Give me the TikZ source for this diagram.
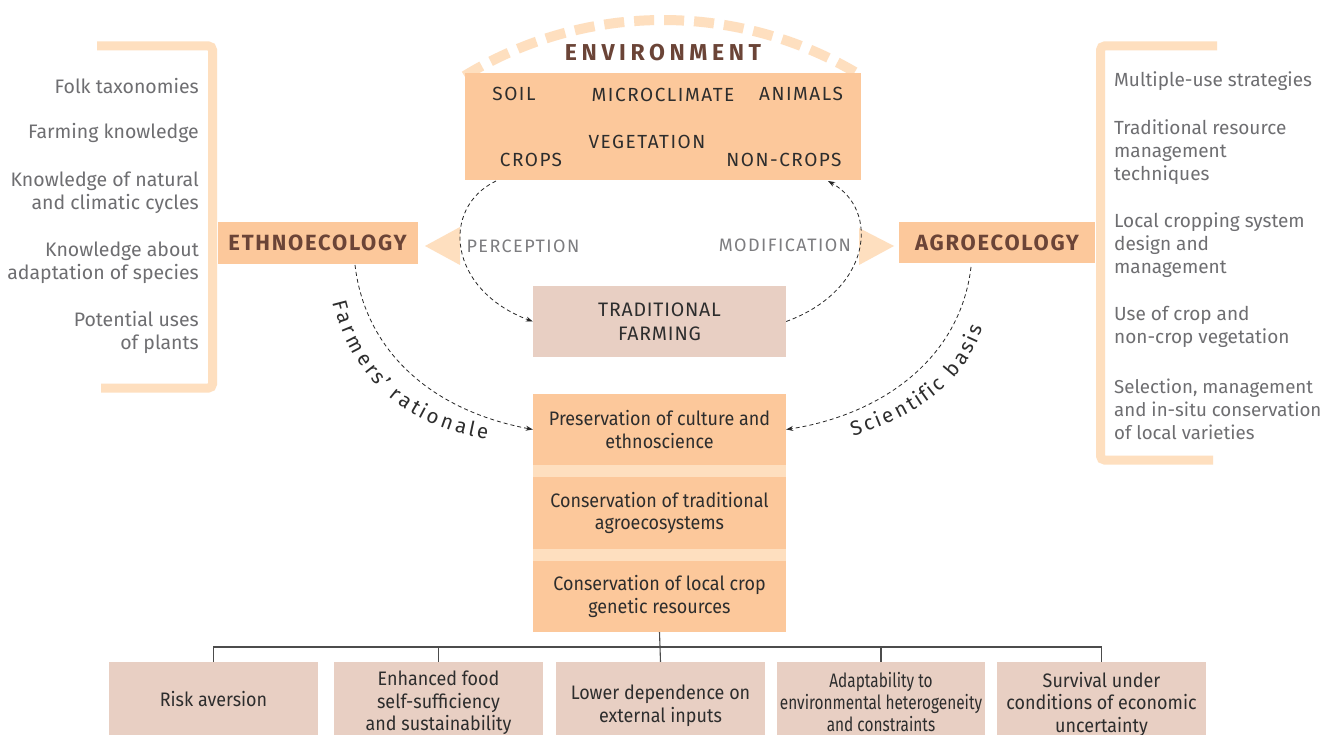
\documentclass[tikz,border=0pt]{standalone}
\usepackage{fontspec}
\setmainfont{Fira Sans}
\newfontfamily\condf{Fira Sans}[FakeStretch=0.92]
\newfontfamily\vcondf{Fira Sans}[FakeStretch=0.79]
\newfontfamily\spacedf{Fira Sans}[LetterSpace=8]
\newfontfamily\tfspacedf{Fira Sans}[LetterSpace=4]
\newfontfamily\widef{Fira Sans}[LetterSpace=20]
\newfontfamily\sidef{Fira Sans}[LetterSpace=8]
\usetikzlibrary{arrows.meta,decorations.text}
\definecolor{peach}{RGB}{252,200,155}
\definecolor{lpeach}{RGB}{254,223,191}
\definecolor{pinkb}{RGB}{232,207,195}
\definecolor{brownt}{RGB}{107,68,55}
\definecolor{grayt}{RGB}{110,110,113}
\definecolor{labelt}{RGB}{125,125,128}
\definecolor{darkt}{RGB}{45,45,45}
\tikzset{
  peachbox/.style={fill=peach, inner sep=0pt, text=darkt, align=center},
  pinkbox/.style={fill=pinkb, inner sep=0pt, text=darkt, align=center},
  boxtext/.style={inner sep=0pt, text=darkt, align=center, font=\condf\fontsize{19.5}{22.5}\selectfont},
  envtext/.style={inner sep=0pt, text=darkt, font=\spacedf\fontsize{19}{22}\selectfont},
  titletext/.style={inner sep=0pt, text=brownt, font=\widef\bfseries\fontsize{23}{26}\selectfont},
  sidetext/.style={text=brownt, font=\sidef\bfseries\fontsize{22}{26}\selectfont},
  listl/.style={inner sep=0pt, text=grayt, anchor=east, align=right, font=\fontsize{19.5}{23.3}\selectfont},
  listr/.style={inner sep=0pt, text=grayt, anchor=west, align=left, font=\fontsize{19}{23.3}\selectfont},
  flowlabel/.style={inner sep=0pt, text=labelt, font=\spacedf\fontsize{18}{20}\selectfont},
  bracket/.style={draw=lpeach, line width=9pt, rounded corners=4pt},
  conn/.style={draw=black!85, line width=0.8pt, dash pattern=on 4pt off 3pt, -{Stealth[length=7pt,width=5pt]}},
  tree/.style={draw=black!70, line width=1.1pt},
  curvelabel/.style={decorate, decoration={text effects along path, text={#1}, text effects/.cd, text along path, fit text to path, characters={text=darkt, font=\fontsize{20.5}{20.5}\selectfont}}},
}
\begin{document}
\begin{tikzpicture}[x=1pt,y=1pt]
\useasboundingbox (0,0) rectangle (1323,-735);
\fill[white] (0,0) rectangle (1323,-735);

% dashed arc over environment
\draw[lpeach, line width=10pt, dash pattern=on 20pt off 10pt] (663,-400) ++(121.5:380) arc[start angle=121.5, end angle=58.5, radius=380];

% environment box
\node[peachbox, minimum width=396pt, minimum height=107pt] (env) at (663,-126.5) {};
\node[titletext] (envtitle) at (663,-53) {ENVIRONMENT};
\node[envtext] (soil) at (514,-94) {SOIL};
\node[envtext] (micro) at (663,-95) {MICROCLIMATE};
\node[envtext] (animals) at (801,-94) {ANIMALS};
\node[envtext] (veg) at (647,-142) {VEGETATION};
\node[envtext] (crops) at (531,-160) {CROPS};
\node[envtext] (noncrops) at (784,-160) {NON-CROPS};

% brackets
\draw[bracket] (97,-46) -- (212.5,-46) -- (212.5,-388) -- (101,-388);
\draw[bracket] (1217,-46) -- (1100.5,-46) -- (1100.5,-460) -- (1213,-460);

% side boxes
\node[peachbox, minimum width=200pt, minimum height=42pt, sidetext] (eth) at (317.5,-243) {ETHNOECOLOGY};
\node[peachbox, minimum width=196pt, minimum height=41pt, sidetext] (agro) at (997,-242.5) {AGROECOLOGY};

% triangles
\fill[lpeach] (425,-246) -- (460,-227) -- (460,-265) -- cycle;
\fill[lpeach] (894,-246) -- (859,-228) -- (859,-265) -- cycle;

\node[flowlabel] (perc) at (523,-246) {PERCEPTION};
\node[flowlabel] (modif) at (785,-245) {MODIFICATION};

% traditional farming
\node[pinkbox, minimum width=253pt, minimum height=71pt, font=\tfspacedf\fontsize{19.5}{24}\selectfont] (tf) at (659.5,-321.5) {TRADITIONAL\\FARMING};

% stack
\fill[lpeach] (533,-394) rectangle (786,-632);
\node[peachbox, minimum width=253pt, minimum height=71pt, font=\condf\fontsize{19.5}{22.5}\selectfont] (pres) at (659.5,-429.5) {Preservation of culture and\\ethnoscience};
\node[peachbox, minimum width=253pt, minimum height=72pt, font=\condf\fontsize{19.5}{22.5}\selectfont] (consa) at (659.5,-513) {Conservation of traditional\\agroecosystems};
\node[peachbox, minimum width=253pt, minimum height=71pt, font=\condf\fontsize{19.5}{22.5}\selectfont] (consc) at (659.5,-596.5) {Conservation of local crop\\genetic resources};

% bottom boxes
\node[pinkbox, minimum width=209pt, minimum height=73pt] (risk) at (213.5,-698.5) {};
\node[pinkbox, minimum width=209pt, minimum height=73pt] (food) at (438.5,-698.5) {};
\node[pinkbox, minimum width=209pt, minimum height=73pt] (lower) at (660.5,-698.5) {};
\node[pinkbox, minimum width=208pt, minimum height=73pt] (adapt) at (881,-698.5) {};
\node[pinkbox, minimum width=209pt, minimum height=73pt] (surv) at (1101.5,-698.5) {};
\node[boxtext] (riskt) at (213.5,-699.5) {Risk aversion};
\node[boxtext] (foodt) at (438.5,-703) {Enhanced food\\self-sufficiency\\and sustainability};
\node[boxtext] (lowert) at (660.5,-706) {Lower dependence on\\external inputs};
\node[boxtext, font=\vcondf\fontsize{19.5}{22}\selectfont] (adaptt) at (881,-702.5) {Adaptability to\\environmental heterogeneity\\and constraints};
\node[boxtext] (survt) at (1101.5,-704) {Survival under\\conditions of economic\\uncertainty};

% tree
\coordinate (hub) at (660.5,-647);
\draw[tree] (consc.south) -- (lower.north);
\draw[tree] (risk.north) |- (hub) -| (surv.north);
\draw[tree] (food.north) -- (food.north |- hub);
\draw[tree] (adapt.north) -- (adapt.north |- hub);

% left list
\node[listl] (l1) at (199,-86) {Folk taxonomies};
\node[listl] (l2) at (199,-133) {Farming knowledge};
\node[listl] (l3) at (199,-192.5) {Knowledge of natural\\and climatic cycles};
\node[listl] (l4) at (199,-262.5) {Knowledge about\\adaptation of species};
\node[listl] (l5) at (199,-332.5) {Potential uses\\of plants};

% right list
\node[listr] (r1) at (1114,-81.5) {Multiple-use strategies};
\node[listr] (r2) at (1114,-152) {Traditional resource\\management\\techniques};
\node[listr] (r3) at (1114,-245) {Local cropping system\\design and\\management};
\node[listr] (r4) at (1114,-327) {Use of crop and\\non-crop vegetation};
\node[listr, font=\fontsize{18.7}{23.3}\selectfont] (r5) at (1114,-409.5) {Selection, management\\and in-situ conservation\\of local varieties};

% connectors
\coordinate (envbl) at (496,-181);
\coordinate (envbr) at (828,-181);
\draw[conn] (envbl) .. controls (440,-208) and (448,-290) .. (tf.west);
\draw[conn] (tf.east) .. controls (872,-290) and (880,-210) .. (envbr);
\coordinate (ethb) at (355,-265);
\coordinate (agrob) at (971,-267);
\draw[conn] (ethb) .. controls (365,-350) and (430,-410) .. (pres.west);
\draw[conn] (agrob) .. controls (960,-360) and (880,-415) .. (pres.east);

% curved labels
\path[curvelabel={Farmers’ rationale}]
  (333,-302) .. controls (352,-382) and (410,-428) .. (487,-439);
\path[curvelabel={Scientific basis}]
  (853,-436) .. controls (915,-416) and (963,-386) .. (983,-328);
\end{tikzpicture}
\end{document}
